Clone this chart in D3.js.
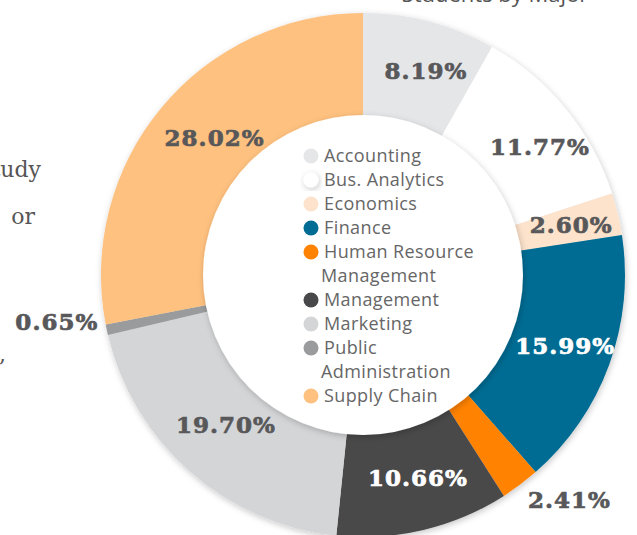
<!DOCTYPE html>
<html>
<head>
<meta charset="utf-8">
<script src="https://cdn.jsdelivr.net/npm/d3@7"></script>
<style>
  html, body { margin: 0; padding: 0; background: #fff; overflow: hidden; }
</style>
</head>
<body>
<div id="chart"></div>
<script>
// values
const majors = ["Accounting", "Bus. Analytics", "Economics", "Finance",
  "Human Resource Management", "Management", "Marketing",
  "Public Administration", "Supply Chain"];
const shares = [8.19, 11.77, 2.60, 15.99, 2.41, 10.66, 19.70, 0.65, 28.02];
const legendLines = [["Accounting"], ["Bus. Analytics"], ["Economics"], ["Finance"],
  ["Human Resource", "Management"], ["Management"], ["Marketing"],
  ["Public", "Administration"], ["Supply Chain"]];
const sliceColors = ["#e5e6e8", "#ffffff", "#fde3cc", "#006c93", "#ff8200",
  "#48484a", "#d4d5d7", "#9a9b9d", "#fec17f"];
const title = "Students by Major";
const sideText = ["study", "or", ","];

const width = 637, height = 535;
const cx = 363, cy = 275;
const outerR = 262, innerR = 160;

const svg = d3.select("#chart").append("svg")
  .attr("width", width)
  .attr("height", height);

// soft drop shadow used by ring, hole and white legend dot
const defs = svg.append("defs");
const f = defs.append("filter").attr("id", "shadow")
  .attr("x", "-20%").attr("y", "-20%").attr("width", "140%").attr("height", "140%");
f.append("feDropShadow")
  .attr("dx", 1).attr("dy", 2).attr("stdDeviation", 3)
  .attr("flood-color", "#000").attr("flood-opacity", 0.22);

// cut-off paragraph text on the left
const sideY = [177, 224, 362];
const sideX = [41, 35, 6];
svg.selectAll("text.side").data(sideText).enter().append("text")
  .attr("class", "side")
  .attr("x", (d, i) => sideX[i])
  .attr("y", (d, i) => sideY[i])
  .attr("text-anchor", "end")
  .style("font-family", "'DejaVu Serif', serif")
  .style("font-size", "22px")
  .style("fill", "#555")
  .text(d => d);

// title, mostly above the frame
svg.append("text")
  .attr("x", 495).attr("y", 1.5)
  .attr("text-anchor", "middle")
  .style("font-family", "'Open Sans', sans-serif")
  .style("font-size", "22px")
  .style("fill", "#555")
  .text(title);

const pie = d3.pie().sort(null).value(d => d)
  .startAngle(0).endAngle(2 * Math.PI);
const arcs = pie(shares);

const arc = d3.arc().innerRadius(0).outerRadius(outerR);
const g = svg.append("g").attr("transform", `translate(${cx},${cy})`);

g.append("g").attr("filter", "url(#shadow)")
  .selectAll("path").data(arcs).enter().append("path")
  .attr("d", arc)
  .attr("fill", (d, i) => sliceColors[i]);

// the hole sits on top and throws a shadow onto the ring
g.append("circle")
  .attr("r", innerR)
  .attr("fill", "#fff")
  .attr("filter", "url(#shadow)");

// percentage labels
const labelArc = d3.arc().innerRadius(212).outerRadius(212);
const outsideArc = d3.arc().innerRadius(309).outerRadius(309);
const nudge = [[9, 1], [13, 6], [2, -1], [3, -2], [21, -22], [6, -4], [3, -10], [-4, -18], [15, -2]];
const darkSlices = [3, 5];

g.selectAll("text.pct").data(arcs).enter().append("text")
  .attr("class", "pct")
  .attr("transform", (d, i) => {
    const outside = d.data < 2.5;
    const [x, y] = (outside ? outsideArc : labelArc).centroid(d);
    return `translate(${x + nudge[i][0]},${y + nudge[i][1]})`;
  })
  .attr("dy", "0.36em")
  .attr("text-anchor", "middle")
  .style("font-family", "'DejaVu Serif', serif")
  .style("font-weight", "bold")
  .style("font-size", "23px")
  .style("letter-spacing", "1px")
  .style("fill", (d, i) => darkSlices.includes(i) ? "#fff" : "#58585a")
  .style("stroke", (d, i) => darkSlices.includes(i) ? "#fff" : "#58585a")
  .style("stroke-width", 0.7)
  .text(d => d.data.toFixed(2) + "%");

// legend inside the hole
const legX = 311, legY0 = 156, rowH = 24;
let row = 0;
const legend = svg.append("g");
legendLines.forEach((lines, i) => {
  const y = legY0 + row * rowH;
  legend.append("circle")
    .attr("cx", legX).attr("cy", y)
    .attr("r", 7.5)
    .attr("fill", sliceColors[i])
    .attr("filter", sliceColors[i] === "#ffffff" ? "url(#shadow)" : null);
  lines.forEach((ln, j) => {
    legend.append("text")
      .attr("x", j === 0 ? legX + 13 : legX + 10)
      .attr("y", y + j * rowH)
      .attr("dy", "0.36em")
      .style("font-family", "'Open Sans', sans-serif")
      .style("font-size", "18px")
      .style("letter-spacing", "0.4px")
      .style("fill", "#666")
      .text(ln);
  });
  row += lines.length;
});
</script>
</body>
</html>
